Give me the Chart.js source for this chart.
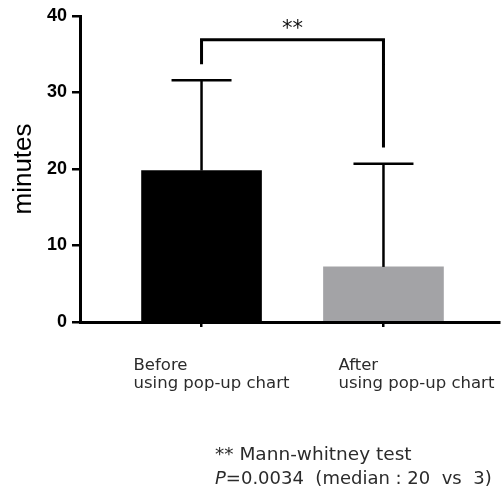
<!DOCTYPE html>
<html><head><meta charset="utf-8">
<script src="https://cdn.jsdelivr.net/npm/chart.js@4/dist/chart.umd.min.js"></script>
<style>html,body{margin:0;padding:0;background:#fff;} #wrap{width:503px;height:496px;position:relative}</style>
</head><body><div id="wrap"><canvas id="c" width="503" height="496"></canvas></div>
<script>
const categories = [["Before", "using pop-up chart"], ["After", "using pop-up chart"]];
const means = [19.8, 7.2];
const sdUpper = [11.8, 13.5];
const barColors = ["#000000", "#a3a3a6"];
const yTicks = [0, 10, 20, 30, 40];
const bracketTop = 36.9;
const bracketEnds = [33.7, 22.8];
const bracketLabel = "**";
const footnoteLine1 = "** Mann-whitney test";
const footnoteP = "P";
const footnoteLine2 = "=0.0034  (median : 20  vs  3)";

const overlay = {
  id: 'overlay',
  afterDatasetsDraw(chart) {
    const { ctx, scales: { x, y } } = chart;
    ctx.save();
    ctx.strokeStyle = '#000';
    ctx.lineCap = 'butt';
    ctx.lineWidth = 2.5;
    means.forEach((m, i) => {
      const px = x.getPixelForValue(i);
      const top = y.getPixelForValue(m + sdUpper[i]);
      ctx.beginPath(); ctx.moveTo(px, y.getPixelForValue(m)); ctx.lineTo(px, top); ctx.stroke();
      ctx.beginPath(); ctx.moveTo(px - 30, top); ctx.lineTo(px + 30, top); ctx.stroke();
    });
    ctx.lineWidth = 3;
    ctx.lineJoin = 'miter';
    const x0 = x.getPixelForValue(0), x1 = x.getPixelForValue(1), yt = y.getPixelForValue(bracketTop);
    ctx.beginPath();
    ctx.moveTo(x0, y.getPixelForValue(bracketEnds[0]));
    ctx.lineTo(x0, yt); ctx.lineTo(x1, yt);
    ctx.lineTo(x1, y.getPixelForValue(bracketEnds[1]));
    ctx.stroke();
    ctx.fillStyle = '#111';
    ctx.font = '21px "DejaVu Sans"';
    ctx.textAlign = 'center';
    ctx.textBaseline = 'alphabetic';
    ctx.fillText(bracketLabel, (x0 + x1) / 2, yt - 5);
    ctx.restore();
  },
  afterDraw(chart) {
    const { ctx, scales: { x } } = chart;
    ctx.save();
    ctx.fillStyle = '#2b2b2b';
    ctx.textAlign = 'left';
    ctx.textBaseline = 'alphabetic';
    ctx.font = '16.5px "DejaVu Sans"';
    const shift = [-68, -45];
    categories.forEach((lines, i) => {
      const lx = x.getPixelForValue(i) + shift[i];
      lines.forEach((t, k) => ctx.fillText(t, lx, 370 + k * 18));
    });
    ctx.font = '18.5px "DejaVu Sans"';
    ctx.fillText(footnoteLine1, 215, 460);
    ctx.font = 'italic 18px "DejaVu Sans"';
    ctx.fillText(footnoteP, 215, 484);
    const pw = ctx.measureText(footnoteP).width;
    ctx.font = '18px "DejaVu Sans"';
    ctx.fillText(footnoteLine2, 215 + pw, 484);
    ctx.restore();
  }
};

new Chart(document.getElementById('c').getContext('2d'), {
  type: 'bar',
  data: {
    datasets: [{
      data: means.map((v, i) => ({ x: i, y: v })),
      backgroundColor: barColors,
      borderWidth: 0,
      barThickness: 120
    }]
  },
  options: {
    responsive: false,
    animation: false,
    layout: { padding: { left: 0, top: 16, right: 4, bottom: 0 } },
    plugins: { legend: { display: false }, tooltip: { enabled: false } },
    scales: {
      x: {
        type: 'linear', min: -0.668, max: 1.635, offset: false, bounds: 'data',
        afterBuildTicks: s => { s.ticks = categories.map((_, i) => ({ value: i })); },
        ticks: { display: false },
        grid: { offset: false, drawOnChartArea: false, drawTicks: true, tickLength: 5, color: '#000', lineWidth: 2.5 },
        border: { color: '#000', width: 3 },
        afterFit: s => { s.height = 174; }
      },
      y: {
        min: 0, max: 40,
        afterBuildTicks: s => { s.ticks = yTicks.map(v => ({ value: v })); },
        ticks: { font: { family: 'Liberation Sans', weight: 'bold', size: 18 }, color: '#000', padding: 5 },
        grid: { drawOnChartArea: false, tickLength: 8, color: '#000', lineWidth: 2.5 },
        border: { color: '#000', width: 3 },
        title: { display: true, text: 'minutes', font: { family: 'Liberation Sans', size: 26 }, color: '#000', padding: { top: 8, bottom: 0 } },
        afterFit: s => { s.width = 80; }
      }
    }
  },
  plugins: [overlay]
});
</script></body></html>
